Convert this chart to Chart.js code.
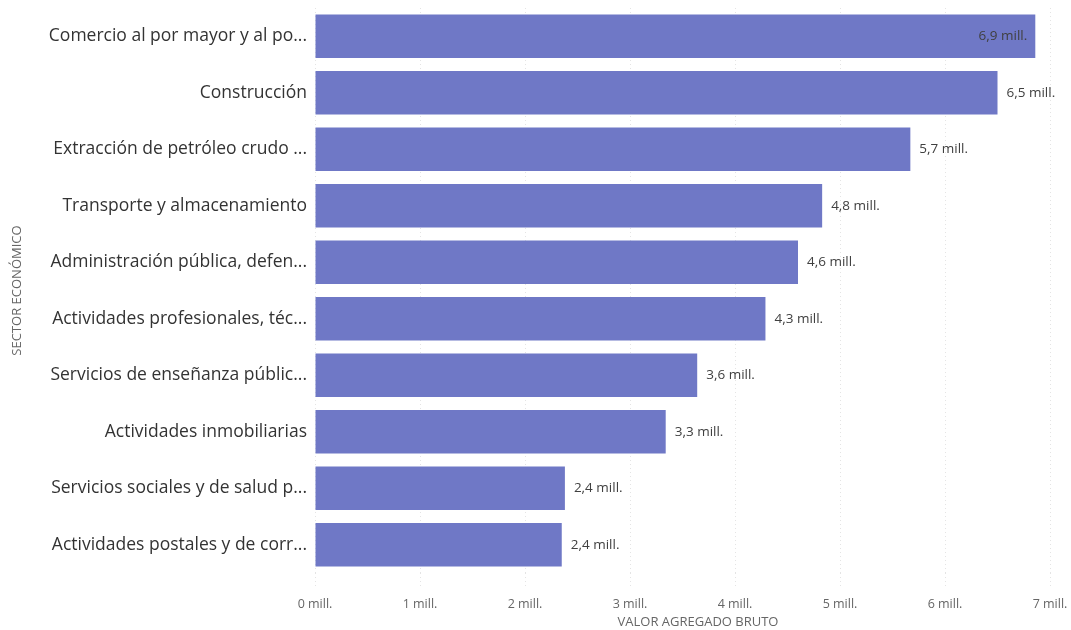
<!DOCTYPE html>
<html>
<head>
<meta charset="utf-8">
<script src="https://cdn.jsdelivr.net/npm/chart.js@4.4.1/dist/chart.umd.min.js"></script>
<style>
  html, body { margin: 0; padding: 0; background: #ffffff; }
  #wrap { width: 1071px; height: 630px; position: relative; }
</style>
</head>
<body>
<div id="wrap"><canvas id="c" width="1071" height="630"></canvas></div>
<script>
const categories = [
  "Comercio al por mayor y al po...",
  "Construcción",
  "Extracción de petróleo crudo ...",
  "Transporte y almacenamiento",
  "Administración pública, defen...",
  "Actividades profesionales, téc...",
  "Servicios de enseñanza públic...",
  "Actividades inmobiliarias",
  "Servicios sociales y de salud p...",
  "Actividades postales y de corr..."
];
const valoresMill = [6.86, 6.50, 5.67, 4.83, 4.60, 4.29, 3.64, 3.34, 2.38, 2.35];
const xTicks = [0, 1, 2, 3, 4, 5, 6, 7];
const xTitle = "VALOR AGREGADO BRUTO";
const yTitle = "SECTOR ECONÓMICO";

function fmt(v) { return v.toFixed(1).replace('.', ',') + ' mill.'; }

const labelPlugin = {
  id: 'barLabels',
  afterDatasetsDraw(chart) {
    const ctx = chart.ctx;
    const meta = chart.getDatasetMeta(0);
    ctx.save();
    ctx.font = '13.5px "Open Sans", sans-serif';
    ctx.fillStyle = '#404040';
    ctx.textBaseline = 'middle';
    meta.data.forEach((bar, i) => {
      const txt = fmt(valoresMill[i]);
      const w = ctx.measureText(txt).width;
      if (bar.x + 9 + w > chart.width - 4) {
        ctx.textAlign = 'right';
        ctx.fillText(txt, bar.x - 8, bar.y);
      } else {
        ctx.textAlign = 'left';
        ctx.fillText(txt, bar.x + 9, bar.y);
      }
    });
    // x axis title, centred on the whole visual like the original
    ctx.font = '13px "Open Sans", sans-serif';
    ctx.fillStyle = '#666666';
    ctx.textAlign = 'center';
    ctx.fillText(xTitle, (chart.chartArea.left + chart.width) / 2 + 5, chart.height - 8);
    ctx.restore();
  }
};

new Chart(document.getElementById('c'), {
  type: 'bar',
  data: {
    labels: categories,
    datasets: [{
      data: valoresMill,
      backgroundColor: '#6f78c6',
      borderWidth: 0,
      barPercentage: 1.0,
      categoryPercentage: 0.77
    }]
  },
  options: {
    indexAxis: 'y',
    responsive: false,
    animation: false,
    layout: { padding: { left: 9, right: 21, top: 8, bottom: 0 } },
    plugins: { legend: { display: false }, tooltip: { enabled: false } },
    scales: {
      x: {
        min: 0, max: 7,
        afterBuildTicks(axis) { axis.ticks = xTicks.map(v => ({ value: v })); },
        afterFit(axis) { axis.height = 57; axis.paddingLeft = 0; axis.paddingRight = 0; },
        ticks: {
          callback: v => v + ' mill.',
          color: '#666666',
          font: { family: '"Open Sans", sans-serif', size: 12.5 },
          padding: 8,
          maxRotation: 0
        },
        grid: {
          color: '#e4e4e4',
          lineWidth: 1,
          drawTicks: true,
          tickLength: 16,
          tickColor: '#e4e4e4',
          tickBorderDash: [1, 3]
        },
        border: { display: false, dash: [1, 3] },
        title: { display: false }
      },
      y: {
        afterFit(axis) { axis.width = 306; axis.paddingTop = 0; axis.paddingBottom = 0; },
        ticks: {
          color: '#333333',
          font: { family: '"Open Sans", sans-serif', size: 17.5 },
          padding: 8
        },
        grid: { display: false, drawTicks: false },
        border: { display: false },
        title: {
          display: true,
          text: yTitle,
          color: '#666666',
          font: { family: '"Open Sans", sans-serif', size: 13 },
          padding: { top: 0, bottom: 0 }
        }
      }
    }
  },
  plugins: [labelPlugin]
});
</script>
</body>
</html>
